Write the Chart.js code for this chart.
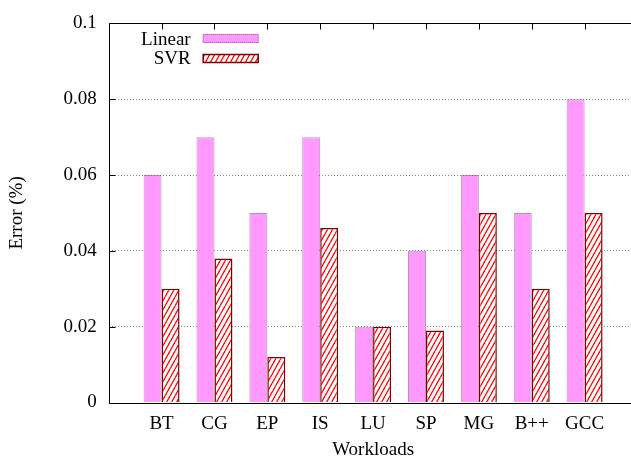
<!DOCTYPE html>
<html>
<head>
<meta charset="utf-8">
<script src="https://cdn.jsdelivr.net/npm/chart.js@4"></script>
<style>
  html, body { margin: 0; padding: 0; overflow: hidden; background: #fff; }
  #moldura-pagina { width: 631px; height: 461px; overflow: hidden; }
  canvas { display: block; }
</style>
</head>
<body>
<div id="moldura-pagina">
  <canvas id="grafico" width="640" height="461"></canvas>
</div>
<script>
// === Dados ===
const workloads = ["BT", "CG", "EP", "IS", "LU", "SP", "MG", "B++", "GCC"];
const erroLinear = [0.06, 0.07, 0.05, 0.07, 0.02, 0.04, 0.06, 0.05, 0.08];
const erroSVR = [0.03, 0.038, 0.012, 0.046, 0.02, 0.019, 0.05, 0.03, 0.05];
const yTicks = ["0", "0.02", "0.04", "0.06", "0.08", "0.1"];

const FONTE = "'Liberation Serif', 'Times New Roman', serif";
Chart.defaults.color = "#000";
Chart.defaults.font.family = FONTE;
Chart.defaults.font.size = 19;

const canvas = document.getElementById("grafico");
const ctx = canvas.getContext("2d");

// hachura vermelha (/) para o SVR
function criarHachura() {
  const w = 5, h = 9;
  const c = document.createElement("canvas");
  c.width = w; c.height = h;
  const g = c.getContext("2d");
  g.fillStyle = "#fff";
  g.fillRect(0, 0, w, h);
  g.strokeStyle = "#ff0000";
  g.lineWidth = 1.3;
  for (const dx of [-w, 0, w]) {
    g.beginPath();
    g.moveTo(dx, h);
    g.lineTo(dx + w, 0);
    g.stroke();
  }
  return ctx.createPattern(c, "repeat");
}
const hachura = criarHachura();

// espaço vazio antes do BT e depois do GCC (como no gnuplot)
const rotulos = ["", ...workloads, ""];
const comBorda = arr => [null, ...arr, null];

// === Moldura, marcas e legenda ===
const moldura = {
  id: "moldura",
  afterDatasetsDraw(chart) {
    const { ctx, chartArea: a, scales } = chart;
    ctx.save();
    ctx.strokeStyle = "#000";
    ctx.lineWidth = 1;
    const l = Math.round(a.left) + 0.5, t = Math.round(a.top) + 0.5;
    const r = a.right + 2, b = Math.round(a.bottom) + 0.5;
    ctx.beginPath();
    ctx.moveTo(r, t); ctx.lineTo(l, t); ctx.lineTo(l, b); ctx.lineTo(r, b);
    scales.y.ticks.forEach(tk => {
      const y = Math.round(scales.y.getPixelForValue(tk.value)) + 0.5;
      ctx.moveTo(l, y); ctx.lineTo(l + 6, y);
    });
    workloads.forEach((_, i) => {
      const x = Math.round(scales.x.getPixelForValue(i + 1)) + 0.5;
      ctx.moveTo(x, t); ctx.lineTo(x, t + 6);
    });
    ctx.stroke();

    // legenda
    ctx.font = "19px " + FONTE;
    ctx.textAlign = "right";
    ctx.textBaseline = "middle";
    const itens = chart.data.datasets;
    itens.forEach((ds, i) => {
      const y = a.top + 16.5 + i * 19.5;
      ctx.fillStyle = "#000";
      ctx.fillText(ds.label, a.left + 82, y);
      const bx = a.left + 94, by = Math.round(y - 5.5);
      ctx.fillStyle = ds.backgroundColor;
      ctx.fillRect(bx, by, 56, 9);
      ctx.strokeStyle = i === 0 ? "rgba(110,60,110,0.7)" : "#800000";
      ctx.lineWidth = i === 0 ? 1 : 1.5;
      if (i === 0) ctx.setLineDash([1, 1]); else ctx.setLineDash([]);
      ctx.strokeRect(bx + 0.5, by + 0.5, 55, 8);
    });
    ctx.restore();
  }
};

new Chart(ctx, {
  type: "bar",
  data: {
    labels: rotulos,
    datasets: [
      {
        label: "Linear",
        data: comBorda(erroLinear),
        backgroundColor: "#ff99ff",
        borderColor: "rgba(120,60,120,0.55)",
        borderWidth: 1,
        categoryPercentage: 0.68,
        barPercentage: 1.0,
      },
      {
        label: "SVR",
        data: comBorda(erroSVR),
        backgroundColor: hachura,
        borderColor: "#800000",
        borderWidth: 1.5,
        categoryPercentage: 0.68,
        barPercentage: 1.0,
      },
    ],
  },
  options: {
    responsive: false,
    animation: false,
    layout: { padding: { top: 18.7, right: 2, left: 0, bottom: 0 } },
    plugins: {
      legend: { display: false },
      tooltip: { enabled: false },
    },
    scales: {
      x: {
        offset: false,
        grid: { display: false },
        border: { display: false },
        ticks: { padding: 2.5, autoSkip: false, maxRotation: 0 },
        title: { display: true, text: "Workloads", padding: 0 },
        afterFit: s => { s.height = 58.5; },
      },
      y: {
        min: 0,
        max: 0.1,
        ticks: {
          stepSize: 0.02,
          padding: 12,
          callback: (v, i) => yTicks[i],
        },
        grid: {
          drawTicks: false,
          color: c => (c.index === 0 || c.index === yTicks.length - 1) ? "rgba(0,0,0,0)" : "#888",
        },
        border: { display: false, dash: [1, 2] },
        title: { display: true, text: "Error (%)", padding: { top: 6, bottom: 0 } },
        afterFit: s => { s.width = 108.7; },
      },
    },
  },
  plugins: [moldura],
});
</script>
</body>
</html>
